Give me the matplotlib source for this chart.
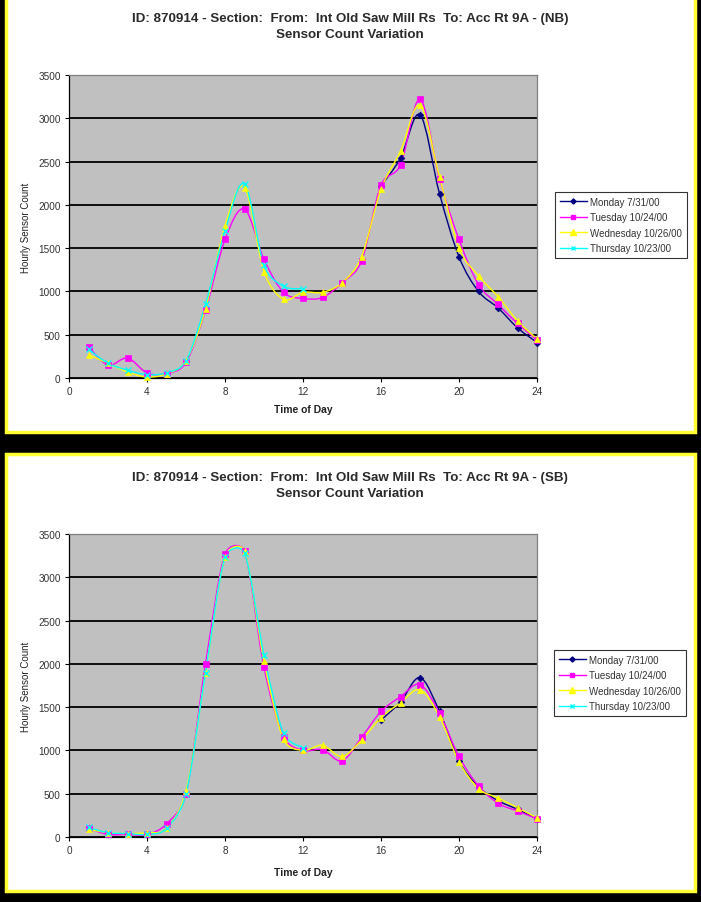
import numpy as np
import matplotlib
matplotlib.use("Agg")
import matplotlib.pyplot as plt
from matplotlib.path import Path
from matplotlib.patches import PathPatch, Rectangle
from matplotlib.lines import Line2D

plt.rcParams['font.family'] = ['Liberation Sans', 'DejaVu Sans']

hours = list(range(1, 25))
hours_mon = list(range(16, 25))
hours_thu = list(range(1, 13))

series_names = ["Monday 7/31/00", "Tuesday 10/24/00", "Wednesday 10/26/00", "Thursday 10/23/00"]

# NB (top chart)
nb_mon = [2220, 2540, 3040, 2130, 1400, 1000, 810, 580, 410]
nb_tue = [360, 150, 230, 60, 50, 180, 780, 1600, 1950, 1370, 990, 920,
          930, 1100, 1350, 2230, 2460, 3220, 2300, 1600, 1080, 850, 630, 440]
nb_wed = [270, 170, 70, 10, 50, 200, 800, 1760, 2200, 1230, 910, 990,
          990, 1100, 1400, 2180, 2620, 3150, 2320, 1500, 1180, 940, 660, 450]
nb_thu = [330, 170, 90, 40, 60, 200, 850, 1700, 2240, 1300, 1060, 1030]

# SB (bottom chart)
sb_mon = [1350, 1560, 1840, 1450, 880, 580, 420, 320, 210]
sb_tue = [100, 30, 30, 30, 150, 500, 2000, 3270, 3300, 1960, 1160, 1000,
          1010, 880, 1150, 1450, 1620, 1760, 1430, 930, 590, 390, 300, 210]
sb_wed = [90, 50, 40, 50, 100, 530, 1900, 3240, 3300, 2030, 1130, 1000,
          1060, 930, 1120, 1380, 1550, 1700, 1390, 870, 560, 450, 340, 220]
sb_thu = [110, 50, 40, 30, 100, 500, 1900, 3230, 3280, 2100, 1200, 1030]

titles = ["ID: 870914 - Section:  From:  Int Old Saw Mill Rs  To: Acc Rt 9A - (NB)",
          "ID: 870914 - Section:  From:  Int Old Saw Mill Rs  To: Acc Rt 9A - (SB)"]
subtitle = "Sensor Count Variation"
xticks = [0, 4, 8, 12, 16, 20, 24]
yticks = [0, 500, 1000, 1500, 2000, 2500, 3000, 3500]

colors = ["#000080", "#FF00FF", "#FFFF00", "#00FFFF"]
markers = ["D", "s", "^", "x"]
msizes = [3.4, 4.2, 4.4, 4.0]

W, H = 701, 903
fig = plt.figure(figsize=(W / 100, H / 100), dpi=100)
fig.patch.set_facecolor("black")


def fx(px):
    return px / W


def fy(py):
    return 1 - py / H


def smooth_path(ax, xs, ys):
    """Excel-style smoothed line: Bezier segments with distance-limited tangents."""
    data = np.column_stack([np.asarray(xs, float), np.asarray(ys, float)])
    pts = ax.transData.transform(data)
    n = len(pts)
    verts = [tuple(data[0])]
    codes = [Path.MOVETO]
    inv = ax.transData.inverted()
    for i in range(n - 1):
        p0 = pts[max(i - 1, 0)]
        p1 = pts[i]
        p2 = pts[i + 1]
        p3 = pts[min(i + 2, n - 1)]
        d12 = np.hypot(*(p2 - p1))
        d02 = np.hypot(*(p2 - p0))
        d13 = np.hypot(*(p3 - p1))
        f0 = 1 / 6
        f1 = 1 / 6
        if d02 / 6 >= d12 / 2 and d02 > 0:
            f0 = d12 / d02 / 2
        if d13 / 6 >= d12 / 2 and d13 > 0:
            f1 = d12 / d13 / 2
        c1 = p1 + (p2 - p0) * f0
        c2 = p2 - (p3 - p1) * f1
        cd = inv.transform(np.vstack([c1, c2, p2]))
        verts += [tuple(cd[0]), tuple(cd[1]), tuple(data[i + 1])]
        codes += [Path.CURVE4] * 3
    return Path(verts, codes)


panels = [
    dict(box=(6, -4, 695, 433), ax_top=76, ax_bot=379, t1=19, t2=35, xl=410,
         data=[(hours_mon, nb_mon), (hours, nb_tue), (hours, nb_wed), (hours_thu, nb_thu)],
         leg=(555, 193), title=titles[0]),
    dict(box=(6, 455, 695, 892), ax_top=535, ax_bot=838, t1=478, t2=494, xl=873,
         data=[(hours_mon, sb_mon), (hours, sb_tue), (hours, sb_wed), (hours_thu, sb_thu)],
         leg=(554, 651), title=titles[1]),
]

for p in panels:
    x0, y0, x1, y1 = p["box"]
    fig.patches.append(Rectangle((fx(x0), fy(y1)), fx(x1 - x0), (y1 - y0) / H,
                                 transform=fig.transFigure, facecolor="white",
                                 edgecolor="#FFFF33", linewidth=2.5, zorder=-5))
    fig.text(fx(350), fy(p["t1"]), p["title"], ha="center", va="center",
             fontsize=9.6, fontweight="bold", color="#2a2a2a")
    fig.text(fx(350), fy(p["t2"]), subtitle, ha="center", va="center",
             fontsize=9.6, fontweight="bold", color="#2a2a2a")

    ax = fig.add_axes([fx(69), fy(p["ax_bot"]), fx(537 - 69), (p["ax_bot"] - p["ax_top"]) / H])
    ax.set_zorder(1)
    ax.set_facecolor("#C0C0C0")
    ax.set_xlim(0, 24)
    ax.set_ylim(0, 3500)
    ax.set_xticks(xticks)
    ax.set_yticks(yticks)
    ax.tick_params(direction="out", length=3, width=0.8, labelsize=7.2, pad=3, colors="black")
    for lab in ax.get_xticklabels() + ax.get_yticklabels():
        lab.set_color("#333333")
    ax.spines["left"].set_color("black")
    ax.spines["bottom"].set_color("black")
    ax.spines["top"].set_color("#808080")
    ax.spines["right"].set_color("#808080")
    for s in ax.spines.values():
        s.set_linewidth(0.9)
    ax.yaxis.grid(True, color="black", linewidth=1.3)
    ax.set_axisbelow(True)
    ax.set_ylabel("Hourly Sensor Count", fontsize=7, color="#222222", labelpad=5)
    fig.text(fx(303), fy(p["xl"]), "Time of Day", ha="center", va="center",
             fontsize=7.5, fontweight="bold", color="#222222")

    order = [0, 3, 2, 1]
    for k in order:
        xs, ys = p["data"][k]
        patch = PathPatch(smooth_path(ax, xs, ys), fill=False, edgecolor=colors[k],
                          linewidth=1.0, transform=ax.transData, zorder=2 + k * 0.1)
        ax.add_patch(patch)
        ax.plot(xs, ys, linestyle="none", marker=markers[k], color=colors[k],
                markersize=msizes[k], markeredgewidth=1.0 if k == 3 else 0.5,
                zorder=3 + k * 0.1, clip_on=False)

    handles = [Line2D([], [], color=colors[k], marker=markers[k], markersize=msizes[k] - 0.8,
                      linewidth=1.0) for k in range(4)]
    lx0, ly0 = p["leg"]
    leg = fig.legend(handles, series_names, loc="upper left",
                     bbox_to_anchor=(fx(lx0), fy(ly0)), bbox_transform=fig.transFigure,
                     fontsize=7, frameon=True, fancybox=False, borderaxespad=0,
                     handlelength=2.8, handletextpad=0.3, labelspacing=0.55,
                     borderpad=0.5)
    leg.set_zorder(5)
    leg.get_frame().set_edgecolor("black")
    leg.get_frame().set_linewidth(0.8)
    for t in leg.get_texts():
        t.set_color("#333333")

fig.savefig("out.png", dpi=100, facecolor=fig.get_facecolor())
